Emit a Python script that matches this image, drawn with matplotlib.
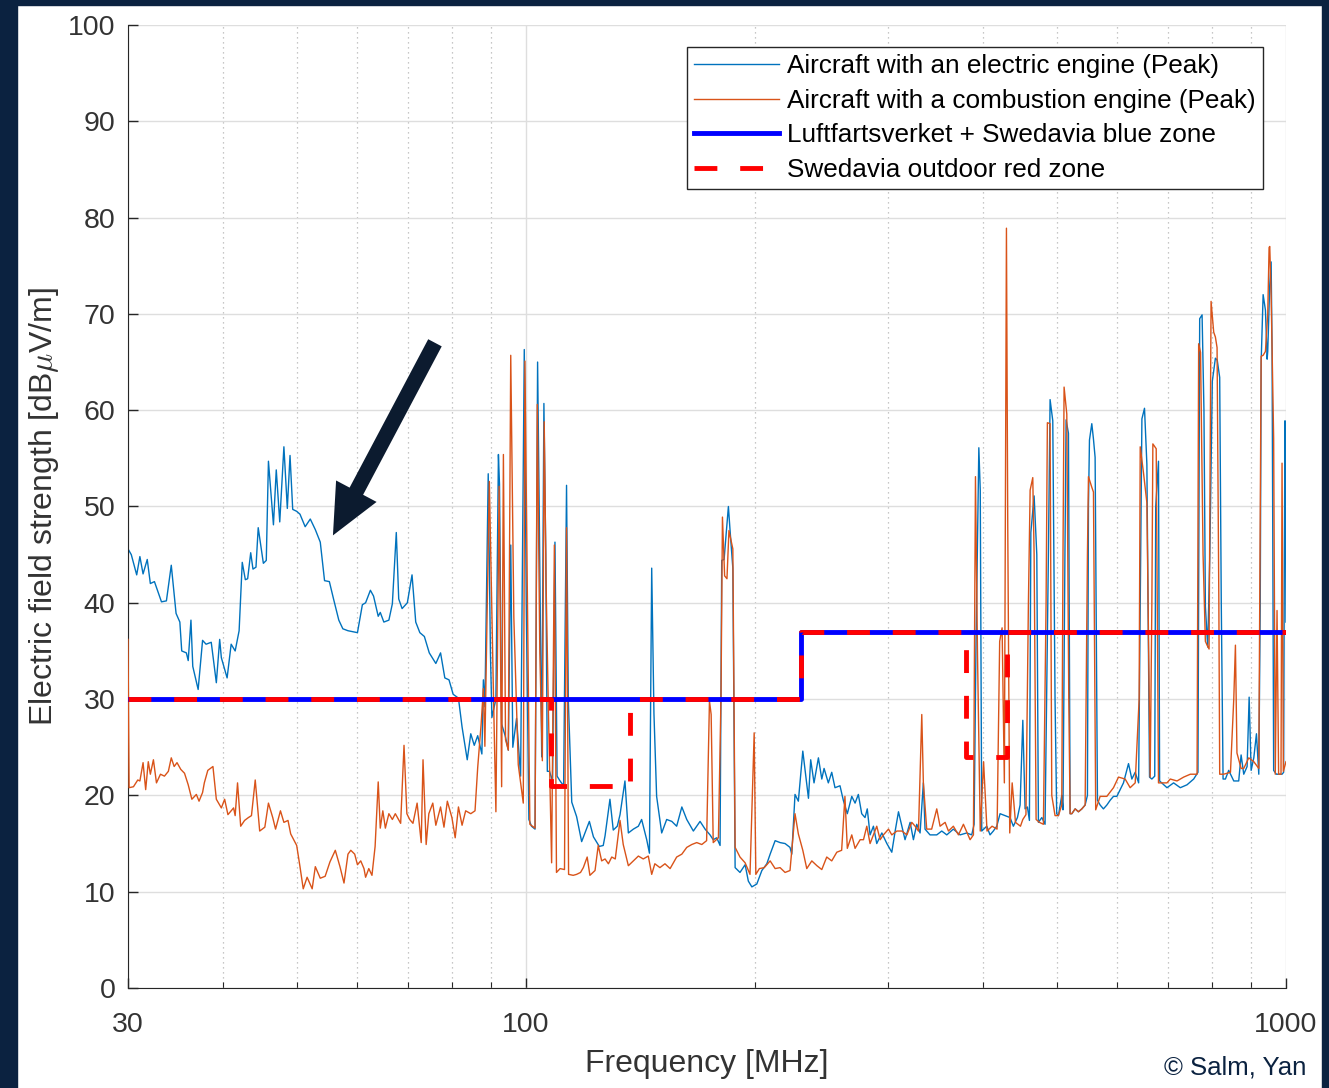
import numpy as np
import matplotlib.pyplot as plt
from matplotlib.patches import Rectangle
from matplotlib.ticker import FixedLocator, NullFormatter

plt.rcParams['font.family'] = ['Liberation Sans', 'DejaVu Sans']
plt.rcParams['mathtext.fontset'] = 'cm'

NAVY = '#0b2240'
GREY = '#262626'

# ---- measured spectra (MHz, dBuV/m) ----
elec_freq = [30.0, 30.3, 30.8, 31.1, 31.4, 31.8, 32.1, 32.5, 33.2, 33.7, 34.2, 34.7, 35.1, 35.3, 35.8, 36.0,
             36.3, 36.5, 37.1, 37.6, 38.0, 38.6, 39.2, 39.6, 39.8, 40.5, 41.0, 41.5, 42.0, 42.4, 42.8, 43.1,
             43.5, 43.8, 44.2, 44.5, 45.2, 45.6, 45.9, 46.6, 47.0, 47.5, 48.1, 48.6, 49.0, 49.4, 50.0, 50.5,
             51.3, 52.1, 52.9, 53.7, 54.4, 55.2, 55.9, 56.8, 57.5, 58.4, 60.1, 61.0, 61.6, 62.5, 63.1, 64.0,
             64.4, 65.1, 66.1, 66.8, 67.6, 68.1, 68.8, 69.9, 70.9, 71.7, 72.6, 73.6, 74.7, 76.2, 77.3, 78.3,
             79.3, 80.3, 81.6, 82.5, 83.8, 84.7, 85.6, 86.5, 87.6,
             88.0, 88.4, 89.3, 89.9, 90.3, 91.4, 92.1, 92.4, 93.0, 94.0, 94.9, 95.6, 96.2, 97.3, 98.5, 99.6,
             100.2, 101.0, 101.8, 102.9, 103.7, 104.2, 105.0, 105.7, 106.3, 106.8, 107.5, 108.5, 109.3, 110.0,
             111.0, 112.2, 113.2, 113.8,
             115.0, 116.7, 118.5, 119.7, 121.3, 122.8, 125.0, 126.5, 127.2, 129.1, 130.4, 132.0, 133.1, 135.1,
             136.5, 138.6, 140.7, 142.1, 144.3, 145.5, 146.5, 147.5, 148.7, 151.0, 153.3, 155.7, 158.0, 160.5,
             162.9, 166.2, 169.6, 172.2, 174.8, 176.5, 178.4, 180.2, 181.1, 182.4, 183.9, 184.8, 185.7, 187.3,
             188.6, 191.4, 194.4, 196.3, 198.4, 201.4, 204.5, 207.6, 209.7, 212.9, 216.1, 219.4, 222.7, 223.9,
             226.1, 228.4,
             231.5, 235.5, 237.1, 239.5, 242.7, 245.2, 246.9, 250.1, 252.7, 255.2, 259.1, 261.7, 264.9, 268.5,
             271.2, 273.9, 276.7, 279.5, 281.4, 283.8, 286.7, 289.6, 294.1, 298.6, 303.1, 306.2, 309.3, 312.5,
             315.5, 320.4, 323.6, 326.9, 330.2, 333.5, 335.2, 340.3, 347.3, 352.6, 358.0, 365.2, 372.7, 380.3,
             386.1, 388.9, 391.0, 394.5, 396.2, 398.0, 404.1, 408.1, 412.2, 416.5, 420.7, 427.1, 433.6, 438.0,
             443.4, 447.0, 450.7, 453.8, 457.0, 459.8, 461.8, 466.4, 470.2, 472.5, 477.4, 482.1, 487.0, 489.5,
             493.5, 496.9, 499.4, 502.0, 507.1, 509.0, 512.0, 513.8, 517.5, 520.1, 522.8, 528.1, 533.4, 538.9,
             544.3, 548.1, 549.8, 551.5, 555.4, 558.2, 561.0, 565.0, 569.6, 575.3, 581.3, 587.2, 593.1, 599.2,
             611.3, 620.7, 627.0, 633.4, 640.0, 643.1, 646.4, 651.5, 656.2, 661.5, 666.2, 672.0, 674.0, 679.7,
             682.0, 697.4, 711.5, 726.1, 741.0, 756.1, 766.0, 770.0, 775.6, 780.0, 783.4, 789.0, 794.0, 800.0,
             807.5, 812.0, 818.1, 822.0, 826.5, 832.4, 840.7, 853.7, 866.6, 872.9, 879.9, 888.9, 894.4, 899.8,
             907.1, 914.4, 920.9, 925.0, 927.5, 933.1, 939.6, 944.5, 946.2, 952.0, 956.0, 958.7, 963.3, 971.2,
             977.9, 988.1, 992.9, 995.0, 997.0, 1000.0]
elec_level = [45.6, 45.0, 42.9, 44.8, 43.0, 44.5, 42.0, 42.2, 40.1, 40.2, 43.9, 38.9, 38.0, 35.0, 34.8, 34.0,
              38.2, 33.4, 31.0, 36.1, 35.7, 35.9, 31.7, 36.2, 34.3, 32.2, 35.7, 35.0, 37.1, 44.2, 42.4, 42.5,
              45.2, 43.5, 43.7, 47.8, 44.1, 44.4, 54.7, 48.1, 53.8, 48.4, 56.2, 49.8, 55.3, 49.7, 49.5, 49.2,
              47.9, 48.7, 47.6, 46.3, 42.3, 42.2, 40.4, 38.2, 37.3, 37.1, 36.9, 39.8, 40.0, 41.3, 40.7, 38.6,
              39.0, 38.0, 38.2, 39.9, 47.3, 40.4, 39.4, 40.0, 42.9, 38.0, 36.9, 36.5, 34.8, 33.7, 34.8, 32.2,
              32.0, 30.5, 30.1, 27.1, 23.7, 26.4, 25.2, 26.2, 24.3,
              32.0, 29.2, 53.4, 34.8, 28.1, 30.0, 55.4, 52.3, 27.4, 26.2, 24.7, 46.0, 25.0, 28.0, 22.0, 66.3,
              40.0, 17.5, 16.8, 16.5, 65.0, 50.0, 24.0, 60.7, 45.0, 22.5, 22.5, 21.5, 46.3, 22.0,
              21.5, 21.0, 52.2, 30.0,
              19.3, 17.8, 15.2, 16.1, 17.3, 15.7, 14.7, 14.8, 15.8, 19.6, 16.4, 16.8, 18.0, 21.5,
              16.1, 16.5, 16.8, 17.5, 15.4, 14.0, 43.6, 28.5, 19.9, 16.1, 17.5, 17.3, 16.8, 18.8,
              17.5, 16.3, 17.3, 16.5, 15.9, 15.4, 15.6, 14.8, 44.4, 44.5, 47.9, 50.0, 47.6, 43.6,
              12.5, 12.0, 12.8, 11.1, 10.5, 10.8, 12.2, 12.9, 13.9, 15.3, 15.1, 15.0, 14.6, 13.9,
              20.1, 19.4,
              24.6, 19.7, 23.7, 21.3, 23.9, 21.7, 22.8, 21.3, 22.4, 20.8, 21.0, 19.5, 18.1, 19.9,
              19.2, 20.1, 18.1, 17.7, 18.6, 15.9, 16.8, 15.0, 16.1, 15.0, 14.1, 16.3, 18.3, 16.8,
              15.4, 17.2, 15.4, 17.0, 16.1, 21.3, 16.5, 15.9, 15.9, 16.3, 15.9, 16.5, 15.9, 16.1,
              15.9, 17.0, 34.7, 56.1, 51.7, 16.3, 16.8, 15.9, 16.3, 16.8, 18.1, 17.9, 17.7, 16.8,
              17.7, 19.0, 27.8, 18.6, 18.8, 17.4, 47.3, 51.1, 45.0, 17.2, 17.7, 17.0, 45.0, 61.1,
              58.9, 30.0, 18.1, 17.9, 20.0, 18.5, 45.0, 59.0, 57.6, 18.1, 18.1, 18.6, 18.3, 18.6,
              19.0, 20.0, 50.0, 56.9, 58.6, 57.0, 55.1, 19.5, 19.0, 18.6, 19.0, 19.5, 19.9, 19.9,
              21.3, 23.3, 21.7, 22.4, 21.3, 40.0, 59.1, 60.2, 54.4, 21.9, 21.7, 22.0, 50.0, 54.7,
              21.5, 20.8, 21.3, 20.8, 21.1, 21.7, 22.4, 69.5, 69.9, 60.0, 39.6, 35.4, 45.0, 63.0,
              65.4, 65.2, 63.4, 40.0, 21.7, 21.7, 22.6, 21.5, 21.5, 24.2, 22.2, 23.0, 30.2, 22.6,
              23.9, 26.4, 22.2, 40.0, 65.0, 72.0, 70.4, 65.3, 66.1, 73.0, 75.4, 66.1, 22.6, 22.2,
              22.2, 22.2, 22.4, 45.0, 58.9, 38.0]

comb_freq = [30.0, 30.1, 30.5, 30.9, 31.1, 31.4, 31.65, 31.9, 32.1, 32.4, 32.7, 33.1, 33.5, 33.9, 34.2, 34.5,
             34.8, 35.2, 35.6, 36.0, 36.4, 36.9, 37.2, 37.6, 37.8, 38.2, 38.8, 39.2, 39.8, 40.2, 40.6, 41.3,
             41.5, 41.8, 42.2, 42.7, 43.2, 43.6, 44.1, 44.7, 45.4, 45.9, 46.5, 46.9, 47.6, 48.1, 48.7, 49.1,
             50.0, 50.5, 51.0, 51.6, 52.4, 52.9, 53.7, 54.5, 55.3, 56.2, 57.0, 57.7, 58.4, 58.9, 59.6, 60.1,
             60.7, 61.3, 61.6, 62.2, 62.8, 63.4, 64.0, 64.4, 64.9, 65.4, 66.1, 66.8, 67.4, 68.5, 69.2, 69.8,
             70.4, 71.1, 72.0, 72.9, 73.3, 74.0, 74.6, 75.5, 76.2, 77.3, 78.1, 78.9, 80.0, 80.8, 81.6, 82.5,
             83.4, 84.7, 85.8, 86.5, 87.4,
             88.0, 88.4, 89.6, 90.7, 91.4, 92.3, 93.0, 93.5, 94.1, 94.9, 95.6, 96.5, 97.8, 99.3, 99.8, 100.5,
             101.3, 102.9, 103.6, 104.4, 105.2, 105.8, 106.4, 107.1, 108.2, 109.1, 109.8, 111.0, 112.5, 113.2,
             113.9, 115.5, 116.7, 118.1, 119.1, 120.5, 121.5, 123.4, 124.6, 125.9, 127.2, 128.5, 129.8, 131.2,
             133.1, 134.4, 136.5, 138.6, 140.7, 142.8, 145.0, 146.5, 147.9, 150.2, 152.5, 154.9, 158.0, 160.5,
             162.9, 165.4, 167.9, 170.5, 173.0, 174.5, 175.4, 176.5, 179.3, 180.7, 181.5, 182.7, 184.0, 185.1,
             187.3, 188.6, 191.4, 194.4, 197.3, 199.8, 200.8, 203.0, 206.0, 209.7, 212.9, 216.1, 219.4, 222.7,
             226.1, 228.4, 231.5, 234.3, 237.9, 241.6, 245.2, 248.9, 252.7, 256.6, 260.4, 263.0, 264.9, 268.5,
             271.2, 275.4, 278.2, 281.0, 283.8, 286.7, 289.6, 292.6, 295.5, 300.1, 303.1, 307.8, 312.5, 317.3,
             322.0, 325.3, 328.6, 331.9, 333.5, 336.9, 342.0, 347.3, 350.8, 356.2, 359.8, 365.2, 370.9, 376.5,
             384.2, 388.1, 390.5, 392.9, 396.2, 400.2, 404.4, 410.6, 416.9, 420.2, 423.3, 426.2, 428.9, 430.6,
             433.2, 436.4, 440.8, 447.5, 450.7, 455.0, 458.4, 460.8, 464.5, 466.4, 469.2, 474.0, 479.7, 483.6,
             485.5, 489.5, 492.0, 496.9, 502.0, 507.1, 509.0, 510.7, 514.9, 518.0, 520.1, 522.8, 528.1, 533.4,
             538.9, 544.3, 548.1, 549.8, 555.4, 558.2, 562.0, 569.6, 581.3, 593.1, 602.2, 614.4, 623.8, 633.4,
             641.0, 643.1, 649.5, 656.2, 662.8, 666.2, 668.2, 675.0, 679.7, 683.2, 697.4, 704.4, 718.9, 733.5,
             748.5, 763.9, 767.6, 772.0, 777.9, 783.4, 787.5, 792.2, 797.0, 803.4, 807.5, 811.6, 816.0, 818.1,
             828.0, 845.2, 853.7, 858.0, 862.0, 872.9, 879.9, 893.4, 907.1, 920.9, 927.5, 933.1, 939.6, 946.2,
             950.1, 952.0, 956.0, 963.3, 968.0, 973.2, 977.9, 985.0, 988.1, 992.0, 1000.0]
comb_level = [36.2, 20.8, 20.9, 21.6, 21.5, 23.4, 20.6, 23.5, 22.2, 23.7, 21.3, 22.2, 22.0, 22.5, 23.9, 23.0,
              23.4, 22.7, 22.3, 21.1, 19.6, 20.1, 19.4, 20.3, 21.3, 22.6, 23.0, 19.6, 18.7, 19.6, 18.0, 18.7,
              17.9, 21.3, 16.8, 17.4, 17.7, 17.9, 21.6, 16.3, 16.7, 19.2, 17.7, 16.5, 18.4, 17.2, 17.4, 16.0,
              14.8, 12.6, 10.3, 11.5, 10.3, 12.6, 11.4, 11.6, 13.1, 14.3, 12.6, 10.9, 13.9, 14.3, 13.9, 12.8,
              13.2, 12.4, 11.5, 12.4, 11.7, 14.7, 21.4, 16.6, 18.4, 16.6, 18.1, 17.5, 18.1, 17.1, 25.2, 18.1,
              17.5, 17.1, 19.2, 15.1, 23.7, 14.9, 18.1, 19.2, 16.9, 18.8, 16.7, 19.4, 17.7, 15.6, 18.8, 16.9,
              18.4, 18.1, 18.4, 22.9, 27.4,
              31.1, 25.1, 52.6, 31.0, 18.3, 52.1, 20.9, 55.4, 25.8, 24.7, 65.7, 38.5, 23.2, 19.2, 65.1, 42.0,
              17.0, 16.6, 60.6, 34.8, 23.6, 58.8, 42.0, 29.6, 13.0, 46.0, 12.0, 12.4, 12.3, 47.8,
              11.8, 11.7, 11.8, 12.0, 12.5, 13.6, 11.7, 12.2, 14.8, 13.2, 13.4, 12.9, 13.6, 13.4,
              17.4, 14.9, 12.7, 13.2, 13.7, 13.4, 13.7, 11.8, 12.9, 12.5, 12.9, 12.4, 13.6, 13.9,
              14.6, 14.9, 15.1, 14.9, 15.3, 29.8, 28.4, 15.1, 15.6, 30.2, 48.9, 42.8, 42.5, 47.5,
              45.6, 14.6, 13.6, 13.0, 11.8, 26.5, 11.8, 12.4, 12.5, 13.2, 12.4, 12.5, 12.0, 12.2,
              18.1, 16.0, 14.3, 12.4, 13.2, 12.7, 12.3, 13.6, 13.2, 14.1, 14.3, 19.9, 14.5, 15.9,
              14.5, 15.4, 15.4, 16.8, 15.0, 15.9, 16.8, 15.4, 15.9, 16.5, 15.9, 16.3, 16.3, 15.9,
              17.2, 16.8, 16.3, 28.4, 21.3, 16.5, 16.5, 18.6, 16.8, 17.2, 16.3, 16.8, 15.9, 17.0,
              15.4, 15.9, 53.1, 34.7, 16.3, 23.5, 16.3, 16.8, 16.5, 36.0, 37.4, 21.3, 78.9, 48.0,
              16.1, 21.3, 17.2, 16.8, 17.5, 18.0, 40.0, 51.7, 53.0, 45.0, 17.5, 17.2, 17.0, 40.0,
              58.7, 58.6, 20.0, 17.9, 17.9, 19.0, 45.0, 62.4, 59.6, 30.0, 18.1, 18.1, 18.6, 18.3,
              18.6, 19.0, 45.0, 53.1, 52.0, 51.5, 18.5, 19.9, 19.9, 20.8, 21.9, 21.7, 20.8, 21.3,
              30.0, 56.2, 53.5, 50.4, 21.9, 40.0, 56.5, 56.0, 21.3, 21.3, 21.3, 21.7, 21.5, 21.9,
              22.2, 22.2, 66.9, 66.0, 45.0, 36.0, 35.6, 35.2, 71.3, 68.1, 67.6, 66.5, 40.0, 22.2,
              22.2, 22.4, 30.0, 35.6, 24.4, 22.8, 22.8, 23.9, 23.5, 22.8, 65.6, 65.7, 66.1, 70.0,
              76.9, 77.0, 71.9, 57.1, 22.2, 39.2, 22.2, 22.2, 54.5, 22.5, 23.5]

# ---- limit lines ----
blue_zone_f = [30, 230, 230, 1000]
blue_zone_db = [30, 30, 37, 37]
red_zone_f = [30, 108, 108, 137, 137, 230, 230, 380, 380, 430, 430, 1000]
red_zone_db = [30, 30, 21, 21, 30, 30, 37, 37, 24, 24, 37, 37]

labels = ['Aircraft with an electric engine (Peak)',
          'Aircraft with a combustion engine (Peak)',
          'Luftfartsverket + Swedavia blue zone',
          'Swedavia outdoor red zone']

fig = plt.figure(figsize=(13.29, 10.88), dpi=100)
# dark frame around the picture
for x0, y0, w, h in [(0, 0, 17 / 1329, 1), (0, 1 - 5 / 1088, 1, 5 / 1088), (1322 / 1329, 0, 7 / 1329, 1)]:
    fig.patches.append(Rectangle((x0, y0), w, h, transform=fig.transFigure, color=NAVY, zorder=0))

ax = fig.add_axes([128 / 1329, 1 - 988 / 1088, 1158 / 1329, 963 / 1088])

ax.plot(elec_freq, elec_level, color='#0072BD', lw=1.0, label=labels[0], zorder=2)
ax.plot(comb_freq, comb_level, color='#D95319', lw=1.0, label=labels[1], zorder=3)
ax.plot(blue_zone_f, blue_zone_db, color='#0000FF', lw=3.5, label=labels[2], zorder=4,
        solid_joinstyle='round')
ax.plot(red_zone_f, red_zone_db, color='#FF0000', lw=3.5, dashes=(4.7, 4.7), label=labels[3], zorder=5,
        dash_joinstyle='round')

ax.set_xscale('log')
ax.set_xlim(30, 1000)
ax.set_ylim(0, 100)
ax.set_xticks([30, 100, 1000])
ax.set_xticklabels(['30', '100', '1000'])
ax.xaxis.set_minor_locator(FixedLocator([40, 50, 60, 70, 80, 90, 200, 300, 400, 500, 600, 700, 800, 900]))
ax.xaxis.set_minor_formatter(NullFormatter())
ax.set_yticks(np.arange(0, 101, 10))

ax.set_axisbelow(True)
ax.grid(True, which='major', color='#dedede', lw=1.0, ls='-')
ax.grid(True, which='minor', axis='x', color='#b5b5b5', lw=0.9, ls=(0, (1, 3)))

for s in ['top', 'right']:
    ax.spines[s].set_visible(False)
for s in ['left', 'bottom']:
    ax.spines[s].set_color(GREY)
ax.tick_params(which='major', direction='in', length=7, width=1, colors=GREY, labelsize=20.5, pad=9,
               labelcolor='#333333')
ax.tick_params(axis='x', which='major', pad=17)
ax.tick_params(which='minor', direction='in', length=4, width=0.8, colors=GREY)

ax.set_xlabel('Frequency [MHz]', fontsize=23, color='#333333', labelpad=8)
ax.set_ylabel(r'Electric field strength [dB$\mu$V/m]', fontsize=23, color='#333333', labelpad=5)

ax.legend(loc='upper right', bbox_to_anchor=(0.980, 0.977), fontsize=18.8, frameon=True, fancybox=False,
          edgecolor=GREY, framealpha=1, handlelength=3.25, handletextpad=0.3, labelspacing=0.4,
          borderpad=0.28, borderaxespad=0)

ax.annotate('', xy=(55.8, 47.0), xytext=(76.0, 67.0),
            arrowprops=dict(facecolor='#0c1b2f', edgecolor='none', width=11, headwidth=33,
                            headlength=36, shrink=0), zorder=6)

fig.text(1306 / 1329, 1 - 1068 / 1088, '\u00a9 Salm, Yan', ha='right', va='center', fontsize=18.5,
         color=NAVY)

fig.savefig('out.png', dpi=100)
